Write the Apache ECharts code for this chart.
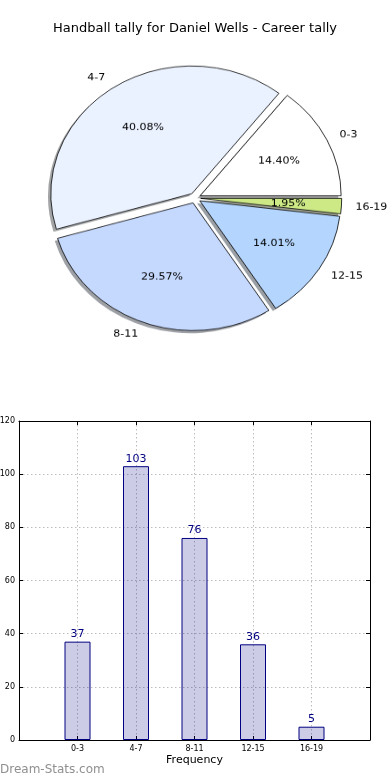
<!DOCTYPE html>
<html>
<head>
<meta charset="utf-8">
<script src="https://cdn.jsdelivr.net/npm/echarts@6/dist/echarts.min.js"></script>
<style>
html,body{margin:0;padding:0;background:#fff;}
#wrap{position:relative;width:390px;height:780px;overflow:hidden;}
#main{position:absolute;left:0;top:0;width:390px;height:780px;}
#pie{position:absolute;left:0;top:0;width:390px;height:400px;transform-origin:195px 198px;transform:scaleY(0.906);}
</style>
</head>
<body>
<div id="wrap"><div id="main"></div><div id="pie"></div></div>
<script>
const titleText = 'Handball tally for Daniel Wells - Career tally';
const categories = ['0-3', '4-7', '8-11', '12-15', '16-19'];
const values = [37, 103, 76, 36, 5];
const sliceColors = ['#ffffff', '#ebf2ff', '#c5d8fe', '#b3d5fe', '#cce986'];
const yMin = 0, yMax = 120, yStep = 20;

const total = values.reduce((a, b) => a + b, 0);
const FONT = 'DejaVu Sans';

// ---------- main chart: title + bar chart ----------
const main = echarts.init(document.getElementById('main'), null, {renderer: 'canvas'});
const gridLine = {show: true, lineStyle: {color: '#bdbdbd', type: [1.5, 2.5], width: 1}};
main.setOption({
  animation: false,
  backgroundColor: '#fff',
  textStyle: {fontFamily: FONT},
  title: {
    text: titleText, left: 'center', top: 22, padding: 0,
    textStyle: {fontFamily: FONT, fontSize: 13, fontWeight: 'normal', color: '#000'}
  },
  grid: {left: 19, top: 421, right: 20, bottom: 40, containLabel: false, outerBoundsMode: 'none'},
  xAxis: [{
    type: 'value', min: -1, max: categories.length, interval: 1,
    position: 'bottom',
    axisLine: {show: true, onZero: false, lineStyle: {color: '#000', width: 1}},
    axisTick: {show: true, inside: true, length: 4, lineStyle: {color: '#000'}},
    axisLabel: {
      fontSize: 8, color: '#000', fontFamily: FONT, margin: 5,
      formatter: v => (categories[v] !== undefined ? categories[v] : '')
    },
    splitLine: gridLine,
    name: 'Frequency', nameLocation: 'middle', nameGap: 15,
    nameTextStyle: {fontSize: 11, color: '#000', fontFamily: FONT}
  }, {
    type: 'value', min: -1, max: categories.length, interval: 1,
    position: 'top',
    axisLine: {show: true, onZero: false, lineStyle: {color: '#000', width: 1}},
    axisTick: {show: true, inside: true, length: 4, lineStyle: {color: '#000'}},
    axisLabel: {show: false},
    splitLine: {show: false}
  }],
  yAxis: [{
    type: 'value', min: yMin, max: yMax, interval: yStep,
    position: 'left',
    axisLine: {show: true, onZero: false, lineStyle: {color: '#000', width: 1}},
    axisTick: {show: true, inside: true, length: 4, lineStyle: {color: '#000'}},
    axisLabel: {fontSize: 8, color: '#000', fontFamily: FONT, margin: 4},
    splitLine: gridLine
  }, {
    type: 'value', min: yMin, max: yMax, interval: yStep,
    position: 'right',
    axisLine: {show: true, onZero: false, lineStyle: {color: '#000', width: 1}},
    axisTick: {show: true, inside: true, length: 4, lineStyle: {color: '#000'}},
    axisLabel: {show: false},
    splitLine: {show: false}
  }],
  graphic: [{
    type: 'text', left: 0, top: 764,
    style: {text: 'Dream-Stats.com', fontFamily: FONT, fontSize: 12, fontWeight: 'normal', fill: '#8f8f8f'}
  }],
  series: [{
    type: 'bar',
    xAxisIndex: 0, yAxisIndex: 0,
    barWidth: 26,
    data: values.map((v, i) => [i, v]),
    itemStyle: {color: 'rgba(0,0,128,0.2)', borderColor: '#000080', borderWidth: 1},
    label: {
      show: true, position: 'top', distance: 2,
      color: '#000080', fontSize: 11, fontFamily: FONT,
      formatter: p => String(p.value[1])
    }
  }]
});

// ---------- pie chart (elliptical via vertical scale of its own layer) ----------
const pie = echarts.init(document.getElementById('pie'), null, {renderer: 'canvas'});
const pieCenter = [195, 198];
const R = 141;
const OFF = 5.7;
const SH = 2.8;
function shadowOf(hex) {
  const n = parseInt(hex.slice(1), 16);
  const r = Math.round(((n >> 16) & 255) * 0.3), g = Math.round(((n >> 8) & 255) * 0.3), b = Math.round((n & 255) * 0.3);
  return 'rgba(' + r + ',' + g + ',' + b + ',0.5)';
}
const sliceData = categories.map((c, i) => ({
  name: c, value: values[i], selected: true,
  itemStyle: {color: sliceColors[i]}
}));
const shadowData = categories.map((c, i) => ({
  name: c, value: values[i], selected: true,
  itemStyle: {color: shadowOf(sliceColors[i])}
}));
const labelData = categories.map((c, i) => ({name: c, value: values[i], selected: true}));
const common = {
  type: 'pie', startAngle: 0, clockwise: false,
  selectedMode: 'multiple', selectedOffset: OFF,
  avoidLabelOverlap: false, silent: true,
  emphasis: {disabled: true}
};
pie.setOption({
  animation: false,
  series: [Object.assign({}, common, {
    center: [pieCenter[0] - SH, pieCenter[1] + SH], radius: [0, R],
    itemStyle: {borderWidth: 0},
    label: {show: false}, labelLine: {show: false},
    data: shadowData
  }), Object.assign({}, common, {
    center: pieCenter, radius: [0, R],
    itemStyle: {borderColor: '#000', borderWidth: 0.8},
    label: {
      show: true, position: 'outside', formatter: '{b}',
      fontSize: 11, color: '#000', fontFamily: FONT, distanceToLabelLine: 0
    },
    labelLine: {show: false, length: 14, length2: 0},
    data: sliceData
  }), Object.assign({}, common, {
    center: pieCenter, radius: [0, R * 1.2],
    itemStyle: {color: 'rgba(0,0,0,0)', borderWidth: 0},
    label: {
      show: true, position: 'inside',
      fontSize: 11, color: '#000', fontFamily: FONT,
      formatter: p => (p.value / total * 100).toFixed(2) + '%'
    },
    labelLine: {show: false},
    data: labelData
  })]
});
</script>
</body>
</html>
